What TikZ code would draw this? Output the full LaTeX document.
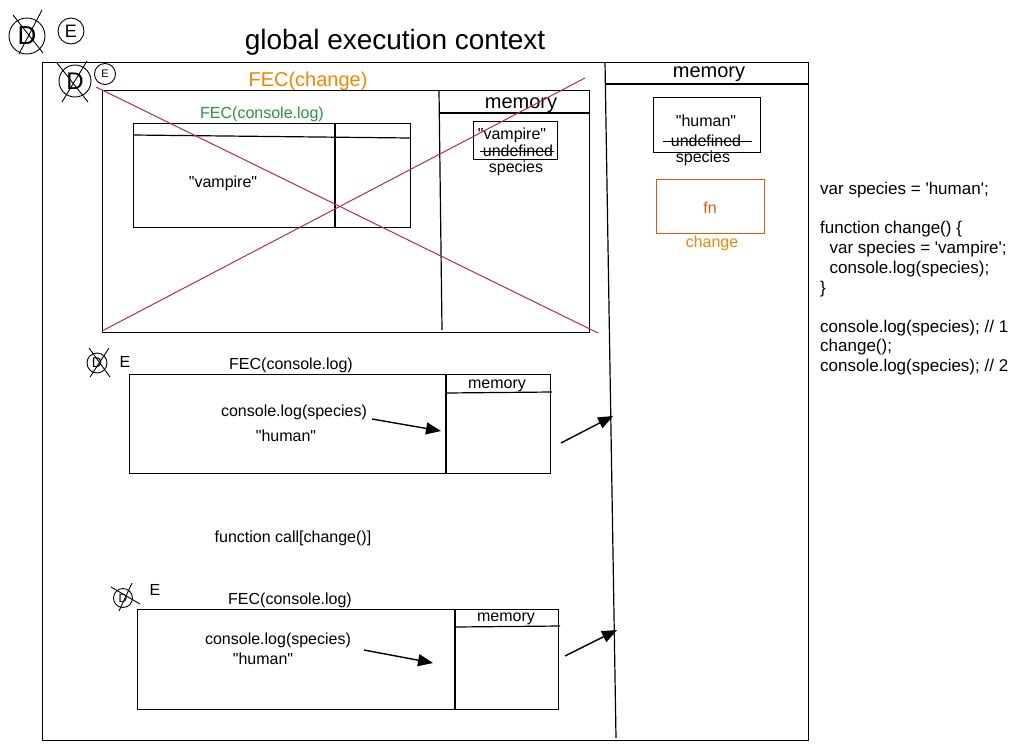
\documentclass[tikz,border=0pt]{standalone}
\usepackage{fontspec}
\setmainfont{Liberation Sans}
\newfontfamily\lsans{Liberation Sans}
\usetikzlibrary{arrows.meta,calc}
\definecolor{crim}{HTML}{B5295A}
\definecolor{orng}{HTML}{F08705}
\definecolor{fnred}{HTML}{E6541C}
\definecolor{grn}{HTML}{2E9141}
\newcommand\fsz[1]{\lsans\fontsize{#1}{#1}\selectfont}
\begin{document}
\begin{tikzpicture}[x=1pt,y=-1pt,
  box/.style={draw, line width=1.2pt, inner sep=0, anchor=north west},
  ln/.style={line width=1.2pt},
  thin/.style={line width=0.9pt},
  lbl/.style={inner sep=0, font=\fsz{16}},
  code/.style={inner sep=0, anchor=west, font=\fsz{17}},
  arr/.style={line width=1.4pt, -{Triangle[length=15pt,width=12pt]}},
  crossline/.style={line width=1pt, crim}
]
\useasboundingbox (0,0) rectangle (1020,750);

% title
\node[inner sep=0, font=\fsz{28}] (title) at (395,42) {global execution context};

% top-left legend circles
\node[draw, circle, thin, minimum size=36pt, inner sep=0, font=\fsz{26}] (d1) at (27,36) {D};
\draw[thin] (13,15) -- (43,53);
\draw[thin] (42,10) -- (19,54);
\node[draw, circle, thin, minimum size=26pt, inner sep=0, font=\fsz{18}] (e1) at (71,31) {E};

% outer global box
\node[box, minimum width=766pt, minimum height=678pt] (gec) at (42,62) {};
\coordinate (gdivtop) at (605,62);
\coordinate (gdivbot) at (616,738);
\draw[ln] (gdivtop) -- (gdivbot);
\draw[ln] (605,84) -- (808,84);
\node[inner sep=0, font=\fsz{20}] (gmem) at (709,74) {memory};

% D / E inside
\node[draw, circle, thin, minimum size=32pt, inner sep=0, font=\fsz{24}] (d2) at (75,81) {D};
\draw[thin] (57,63) -- (88,102);
\draw[thin] (87,61) -- (62,102);
\node[draw, circle, thin, minimum size=21pt, inner sep=0, font=\fsz{11}] (e2) at (105,74) {E};

% FEC(change)
\node[inner sep=0, font=\fsz{20}, text=orng] (fecc) at (308,81) {FEC(change)};
\node[box, minimum width=487pt, minimum height=242pt] (fecbox) at (102,90) {};
\draw[ln] (439,90) -- (442,330);
\draw[ln] (439,113) -- (589,113);
\node[inner sep=0, font=\fsz{20}] (cmem) at (521,105) {memory};
\node[box, minimum width=84pt, minimum height=38pt] (vbox) at (473,121) {};
\node[lbl] (vamp) at (512,135) {"vampire"};
\node[lbl] (vund) at (518,151) {undefined};
\draw[thin] ($(vund.west)+(-3,0.5)$) -- ($(vund.east)+(1,0.5)$);
\node[lbl] (vspec) at (516,168) {species};

\node[inner sep=0, font=\fsz{16}, text=grn] (fecl1) at (262,114) {FEC(console.log)};
\node[box, minimum width=277pt, minimum height=104pt] (clbox) at (133,123) {};
\draw[ln] (133,135) -- (410,138);
\draw[ln] (335,123) -- (335,227);
\node[lbl] (vampt) at (223,183) {"vampire"};

% red cross
\draw[crossline] (96,87) -- (598,333);
\draw[crossline] (102,331) -- (585,78);

% middle FEC(console.log)
\node[draw, circle, thin, minimum size=20pt, inner sep=0, font=\fsz{14}] (d3) at (97,363) {D};
\draw[thin] (89,348) -- (110,377);
\draw[thin] (109,348) -- (90,377);
\node[inner sep=0, font=\fsz{16}] (e3) at (125,362) {E};
\node[lbl] (fecl2) at (291,365) {FEC(console.log)};
\node[box, minimum width=421pt, minimum height=99pt] (mbox) at (129,374) {};
\draw[ln] (446,374) -- (446,473);
\draw[ln] (446,393) -- (552,392);
\node[inner sep=0, font=\fsz{16}] (mmem) at (497,386) {memory};
\node[lbl] (mcl) at (294,412) {console.log(species)};
\node[lbl] (mhum) at (286,436) {"human"};
\coordinate (ma1) at (372,419);
\coordinate (ma2) at (441,431);
\draw[arr] (ma1) -- (ma2);
\coordinate (mb1) at (561,443);
\coordinate (mb2) at (613,416);
\draw[arr] (mb1) -- (mb2);

% function call
\node[lbl] (fcall) at (293,538) {function call[change()]};

% bottom FEC(console.log)
\node[draw, circle, thin, minimum size=19pt, inner sep=0, font=\fsz{12}] (d4) at (123,598) {D};
\draw[thin] (111,587) -- (140,604);
\draw[thin] (132,583) -- (119,611);
\node[inner sep=0, font=\fsz{16}] (e4) at (155,590) {E};
\node[lbl] (fecl3) at (290,600) {FEC(console.log)};
\node[box, minimum width=421pt, minimum height=100pt] (bbox) at (137,609) {};
\draw[ln] (455,609) -- (455,710);
\draw[ln] (455,627) -- (560,626);
\node[inner sep=0, font=\fsz{16}] (bmem) at (506,619) {memory};
\node[lbl] (bcl) at (278,640) {console.log(species)};
\node[lbl] (bhum) at (263,659) {"human"};
\coordinate (ba1) at (364,650);
\coordinate (ba2) at (433,663);
\draw[arr] (ba1) -- (ba2);
\coordinate (bb1) at (565,656);
\coordinate (bb2) at (617,630);
\draw[arr] (bb1) -- (bb2);

% global memory contents
\node[box, minimum width=107pt, minimum height=55pt] (hbox) at (653,97) {};
\node[lbl] (hhum) at (706,121) {"human"};
\node[lbl] (hund) at (706,141) {undefined};
\draw[thin] ($(hund.west)+(-8,0.5)$) -- ($(hund.east)+(11,0.5)$);
\node[lbl] (hspec) at (703,158) {species};
\node[box, draw=fnred, minimum width=108pt, minimum height=54pt] (fnbox) at (656,179) {};
\node[lbl, text=fnred] (fn) at (710,208) {fn};
\node[lbl, text=orng] (chg) at (712,243) {change};

% code
\node[code] (c1) at (820,190) {var species = 'human';};
\node[code] (c2) at (820,229) {function change() \{};
\node[code] (c3) at (820,249) {\ \ var species = 'vampire';};
\node[code] (c4) at (820,269) {\ \ console.log(species);};
\node[code] (c5) at (820,289) {\}};
\node[code] (c6) at (820,328) {console.log(species); // 1};
\node[code] (c7) at (820,347) {change();};
\node[code] (c8) at (820,367) {console.log(species); // 2};
\end{tikzpicture}
\end{document}
